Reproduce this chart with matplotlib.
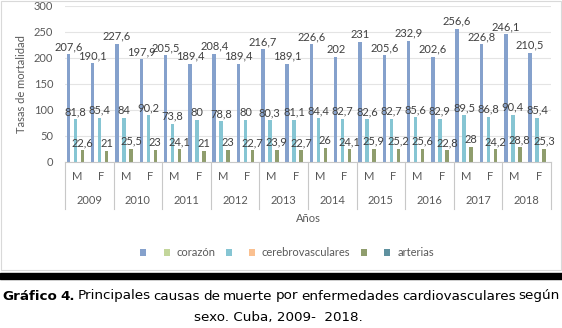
import matplotlib.pyplot as plt
import numpy as np
from matplotlib.patches import Patch, Rectangle

years = ['2009', '2010', '2011', '2012', '2013', '2014', '2015', '2016', '2017', '2018']
sexes = ['M', 'F']

# values per category: 2009 M, 2009 F, 2010 M, ...
corazon = [207.6, 190.1, 227.6, 197.9, 205.5, 189.4, 208.4, 189.4, 216.7, 189.1,
           226.6, 202, 231, 205.6, 232.9, 202.6, 256.6, 226.8, 246.1, 210.5]
cerebro = [81.8, 85.4, 84, 90.2, 73.8, 80, 78.8, 80, 80.3, 81.1,
           84.4, 82.7, 82.6, 82.7, 85.6, 82.9, 89.5, 86.8, 90.4, 85.4]
arterias = [22.6, 21, 25.5, 23, 24.1, 21, 23, 22.7, 23.9, 22.7,
            26, 24.1, 25.9, 25.2, 25.6, 22.8, 28, 24.2, 28.8, 25.3]

legend_labels = ['', 'corazón', '', 'cerebrovasculares', '', 'arterias']
colors = ['#85A1CC', '#C3D69B', '#86C5D3', '#FAC090', '#8F9D6D', '#5F919F']
series = [corazon, None, cerebro, None, arterias, None]

W, H = 562, 328
txt = '#595959'
plt.rcParams['font.family'] = ['Lato', 'DejaVu Sans']

fig = plt.figure(figsize=(W / 100, H / 100), dpi=100)

def fx(px):
    return px / W

def fy(py):
    return 1 - py / H

# plot area in pixels: x 65..551, y 6..162
ax = fig.add_axes([fx(65), fy(162), (551 - 65) / W, (162 - 6) / H])

n = len(corazon)
x = np.arange(n)
w = 0.144
for k, (vals, col) in enumerate(zip(series, colors)):
    if vals is None:
        continue
    pos = x + (k - 2.5) * w
    ax.bar(pos, vals, width=w, color=col, zorder=2)
    for p, v in zip(pos, vals):
        ax.annotate('{:g}'.format(v).replace('.', ','), (p, v), xytext=(0, 1.5),
                    textcoords='offset points', ha='center', va='bottom',
                    fontsize=8, color='#404040')

ax.set_xlim(-0.5, n - 0.5)
ax.set_ylim(0, 300)
ax.set_yticks(np.arange(0, 301, 50))
ax.tick_params(axis='y', length=0, pad=8.5, labelsize=8, labelcolor=txt)
ax.set_xticks([])
ax.grid(axis='y', color='#E4E4E4', linewidth=0.8, zorder=0)
for s in ['top', 'right', 'left']:
    ax.spines[s].set_visible(False)
ax.spines['bottom'].set_color('#C8C8C8')

# two level category axis
trans = ax.get_xaxis_transform()
ph = 162 - 6
for i in range(n):
    ax.text(i, -15 / ph, sexes[i % 2], transform=trans, ha='center', va='center',
            fontsize=8, color=txt)
for j, yr in enumerate(years):
    ax.text(2 * j + 0.5, -39 / ph, yr, transform=trans, ha='center', va='center',
            fontsize=8, color=txt)
for b in np.arange(-0.5, n, 2):
    ax.plot([b, b], [0, -47 / ph], transform=trans, color='#C8C8C8',
            linewidth=0.8, clip_on=False)

fig.text(fx(22), fy(84), 'Tasas de mortalidad', rotation=90, ha='center',
         va='center', fontsize=8, color=txt)
fig.text(fx(308), fy(219), 'Años', ha='center', va='center', fontsize=8, color=txt)

handles = [Patch(facecolor=c) for c in colors]
fig.legend(handles, legend_labels, loc='center', bbox_to_anchor=(fx(287), fy(253)),
           ncol=6, frameon=False, fontsize=8, labelcolor=txt, handlelength=0.55,
           handleheight=0.55, handletextpad=0.6, columnspacing=0.95)

# chart frame and black rule
fig.patches.append(Rectangle((fx(1), fy(270)), fx(560), (270 - 1) / H, fill=False,
                             edgecolor='#D9D9D9', linewidth=0.8, transform=fig.transFigure))
fig.patches.append(Rectangle((0, fy(279)), 1, 6 / H, color='black',
                             transform=fig.transFigure))

# caption, first line justified
r = fig.canvas.get_renderer()
words = [('Gráfico', 'bold'), ('4.', 'bold')] + [(wd, 'normal') for wd in
         'Principales causas de muerte por enfermedades cardiovasculares según'.split()]
ts = [fig.text(0, fy(296), wd, fontweight=wt, fontfamily='DejaVu Sans', fontsize=9.7,
               va='center', color='black') for wd, wt in words]
widths = [t.get_window_extent(r).width for t in ts]
gap = (560 - 2 - sum(widths)) / (len(ts) - 1)
pos = 2
for t, wd in zip(ts, widths):
    t.set_x(fx(pos))
    pos += wd + gap
fig.text(fx(278), fy(317), 'sexo. Cuba, 2009-  2018.', fontfamily='DejaVu Sans',
         fontsize=9.7, ha='center', va='center', color='black')

fig.savefig('out.png', dpi=100)
